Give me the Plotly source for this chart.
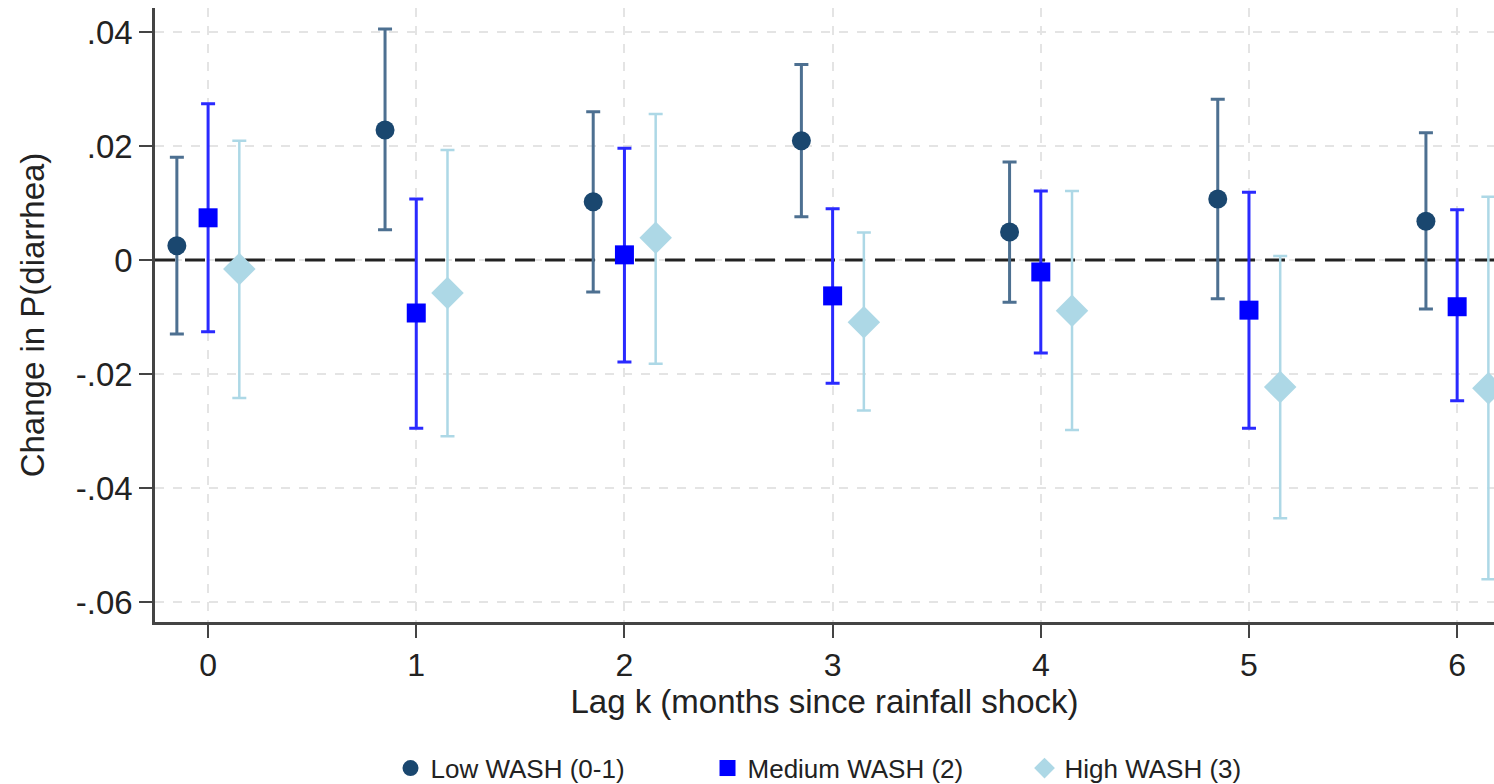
import plotly.graph_objects as go

lags = [0, 1, 2, 3, 4, 5, 6]

low_est = [0.0025, 0.0228, 0.0102, 0.0209, 0.0049, 0.0107, 0.0068]
low_hi = [0.0180, 0.0405, 0.0260, 0.0343, 0.0172, 0.0282, 0.0223]
low_lo = [-0.0130, 0.0053, -0.0056, 0.0076, -0.0074, -0.0068, -0.0086]

med_est = [0.0074, -0.0093, 0.0009, -0.0063, -0.0021, -0.0088, -0.0082]
med_hi = [0.0274, 0.0107, 0.0196, 0.0090, 0.0121, 0.0119, 0.0088]
med_lo = [-0.0126, -0.0295, -0.0179, -0.0216, -0.0163, -0.0295, -0.0247]

high_est = [-0.0016, -0.0058, 0.0039, -0.0109, -0.0089, -0.0223, -0.0225]
high_hi = [0.0209, 0.0193, 0.0256, 0.0048, 0.0121, 0.0007, 0.0111]
high_lo = [-0.0242, -0.0309, -0.0182, -0.0264, -0.0298, -0.0453, -0.0560]

names = ["Low WASH (0-1)", "Medium WASH (2)", "High WASH (3)"]
offsets = [-0.15, 0.0, 0.15]

ytick_vals = [0.04, 0.02, 0.0, -0.02, -0.04, -0.06]
ytick_text = [".04", ".02", "0", "-.02", "-.04", "-.06"]

x_range = [-0.255, 6.177]
y_range = [-0.0635, 0.0442]

series = [
    (low_est, low_hi, low_lo, "#1a476f", "#4d7091", "circle", 19, 3),
    (med_est, med_hi, med_lo, "#0000ff", "#2a2aff", "square", 19, 3),
    (high_est, high_hi, high_lo, "#add8e6", "#add8e6", "diamond", 25, 2.5),
]

FONT = "Liberation Sans, Arial, sans-serif"

fig = go.Figure()

# zero reference line spanning the axis range
fig.add_trace(go.Scatter(
    x=x_range, y=[0, 0], mode="lines", showlegend=False, hoverinfo="skip",
    line=dict(color="#222222", width=3, dash="20px,10px"),
))

for (est, hi, lo, mcol, ecol, sym, msize, th), name, off in zip(series, names, offsets):
    fig.add_trace(go.Scatter(
        x=[l + off for l in lags],
        y=est,
        mode="markers",
        name=name,
        marker=dict(symbol=sym, size=msize, color=mcol, line=dict(width=0)),
        error_y=dict(
            type="data",
            symmetric=False,
            array=[h - e for h, e in zip(hi, est)],
            arrayminus=[e - l for e, l in zip(est, lo)],
            color=ecol,
            thickness=th,
            width=7,
        ),
    ))

fig.update_layout(
    width=1494,
    height=784,
    margin=dict(l=155, r=0, t=8, b=162, autoexpand=False),
    paper_bgcolor="white",
    plot_bgcolor="white",
    font=dict(family=FONT, size=31, color="#222222"),
    showlegend=True,
    legend=dict(
        orientation="h",
        x=0.531,
        xanchor="center",
        y=-0.238,
        yanchor="middle",
        font=dict(size=26, color="#222222"),
        itemwidth=30,
        entrywidth=272,
        traceorder="normal",
    ),
    xaxis=dict(
        range=x_range,
        automargin=False,
        tickvals=lags,
        ticktext=[str(l) for l in lags],
        ticks="outside",
        ticklen=13,
        tickwidth=2,
        tickcolor="#444444",
        ticklabelstandoff=0,
        showline=True,
        linecolor="#444444",
        linewidth=2.5,
        showgrid=True,
        gridcolor="#e4e4e4",
        gridwidth=1.5,
        griddash="dash",
        zeroline=False,
        title=dict(text="Lag k (months since rainfall shock)", font=dict(size=33), standoff=6),
        tickfont=dict(size=32),
    ),
    yaxis=dict(
        range=y_range,
        automargin=False,
        tickvals=ytick_vals,
        ticktext=ytick_text,
        ticks="outside",
        ticklen=13,
        tickwidth=2,
        tickcolor="#444444",
        showline=True,
        linecolor="#444444",
        linewidth=2.5,
        showgrid=True,
        gridcolor="#e4e4e4",
        gridwidth=1.5,
        griddash="dash",
        zeroline=False,
        title=dict(text="Change in P(diarrhea)", font=dict(size=33), standoff=22),
        tickfont=dict(size=33),
    ),
)

fig.write_html("out.html")
